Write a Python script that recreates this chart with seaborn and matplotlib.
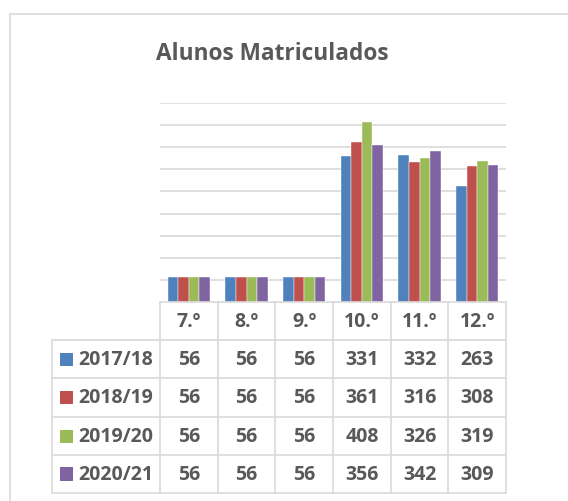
import matplotlib
matplotlib.use("Agg")
import matplotlib.pyplot as plt
import seaborn as sns
import pandas as pd
from matplotlib.patches import Rectangle
from matplotlib.lines import Line2D

# data
anos = ['7.º', '8.º', '9.º', '10.º', '11.º', '12.º']
periodos = ['2017/18', '2018/19', '2019/20', '2020/21']
alunos_1718 = [56, 56, 56, 331, 332, 263]
alunos_1819 = [56, 56, 56, 361, 316, 308]
alunos_1920 = [56, 56, 56, 408, 326, 319]
alunos_2021 = [56, 56, 56, 356, 342, 309]
cores = ['#4F81BD', '#C0504D', '#9BBB59', '#8064A2']

series = [alunos_1718, alunos_1819, alunos_1920, alunos_2021]
df = pd.DataFrame([
    {'ano': a, 'periodo': p, 'alunos': v}
    for p, vals in zip(periodos, series)
    for a, v in zip(anos, vals)
])

sns.set_theme(style='white')
plt.rcParams['font.family'] = ['Open Sans', 'DejaVu Sans']
TXT = '#595959'
GRID = '#D9D9D9'

W, H = 568, 502
fig = plt.figure(figsize=(W / 100, H / 100), dpi=100)


def fx(px):
    return px / W


def fy(py):
    return 1 - py / H


# plot area in pixels
x0, x1 = 160, 506
y_base, y_top = 303, 104
ax = fig.add_axes([fx(x0), fy(y_base), fx(x1) - fx(x0), fy(y_top) - fy(y_base)])

sns.barplot(data=df, x='ano', y='alunos', hue='periodo', order=anos,
            hue_order=periodos, palette=cores, saturation=1, width=0.73,
            gap=0, legend=False, ax=ax, edgecolor='white', linewidth=0.3)

ax.set_ylim(0, 450)
ax.set_yticks(range(50, 451, 50))
ax.yaxis.grid(True, color=GRID, linewidth=1.2)
ax.set_axisbelow(True)
ax.set_xlim(-0.5, len(anos) - 0.5)
ax.set_xticks([])
ax.set_yticklabels([])
ax.tick_params(left=False, bottom=False)
ax.set_xlabel('')
ax.set_ylabel('')
for s in ['top', 'right', 'left']:
    ax.spines[s].set_visible(False)
ax.spines['bottom'].set_color(GRID)
ax.spines['bottom'].set_linewidth(1.2)

# chart border
fig.add_artist(Rectangle((fx(10), fy(620)), fx(700), fy(15) - fy(620),
                         transform=fig.transFigure, fill=False,
                         edgecolor=GRID, linewidth=1.2))

fig.text(fx(272), fy(54), 'Alunos Matriculados', ha='center', va='center',
         fontsize=16.3, fontweight='bold', color=TXT)

# data table under the chart
col_w = (x1 - x0) / len(anos)
col_edges = [x0 + i * col_w for i in range(len(anos) + 1)]
row_edges = [303, 341, 379, 418, 456, 494]
leg_x = 52


def line(xa, ya, xb, yb):
    fig.add_artist(Line2D([fx(xa), fx(xb)], [fy(ya), fy(yb)],
                          transform=fig.transFigure, color=GRID, linewidth=1.2))


for r in row_edges[1:]:
    line(leg_x, r, x1, r)
for c in col_edges:
    line(c, row_edges[0], c, row_edges[-1])
line(leg_x, row_edges[1], leg_x, row_edges[-1])

fs = 14
for i, a in enumerate(anos):
    cx = (col_edges[i] + col_edges[i + 1]) / 2
    fig.text(fx(cx), fy((row_edges[0] + row_edges[1]) / 2), a, ha='center',
             va='center', fontsize=fs, fontweight='bold', color=TXT)

for j, (p, vals) in enumerate(zip(periodos, series)):
    cy = (row_edges[j + 1] + row_edges[j + 2]) / 2
    fig.add_artist(Rectangle((fx(60), fy(cy + 6.5)), fx(13), fy(cy - 6.5) - fy(cy + 6.5),
                             transform=fig.transFigure, color=cores[j], linewidth=0))
    fig.text(fx(78), fy(cy), p, ha='left', va='center', fontsize=fs,
             fontweight='bold', color=TXT)
    for i, v in enumerate(vals):
        cx = (col_edges[i] + col_edges[i + 1]) / 2
        fig.text(fx(cx), fy(cy), str(v), ha='center', va='center',
                 fontsize=fs, fontweight='bold', color=TXT)

plt.savefig('out.png', dpi=100)
